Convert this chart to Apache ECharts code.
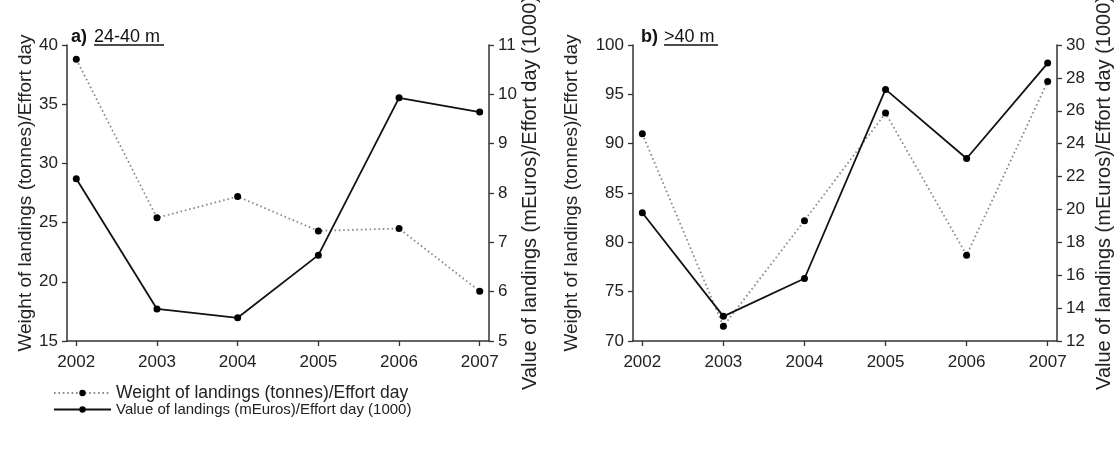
<!DOCTYPE html>
<html>
<head>
<meta charset="utf-8">
<script src="https://cdn.jsdelivr.net/npm/echarts@6/dist/echarts.min.js"></script>
<style>
html,body{margin:0;padding:0;background:#fff;}
#chart{width:1115px;height:451px;}
</style>
</head>
<body>
<div id="chart"></div>
<script>
// ---- data ----
const years = [2002, 2003, 2004, 2005, 2006, 2007];
const weightA = [38.8, 25.4, 27.2, 24.3, 24.5, 19.2];   // tonnes / effort day (left axis, panel a)
const valueA  = [8.29, 5.65, 5.47, 6.74, 9.93, 9.64];   // mEuros / effort day (1000) (right axis, panel a)
const weightB = [91.0, 71.5, 82.2, 93.1, 78.7, 96.3];   // panel b left axis
const valueB  = [19.8, 13.5, 15.8, 27.3, 23.1, 28.9];   // panel b right axis
const seriesNames = ['Weight of landings (tonnes)/Effort day', 'Value of landings (mEuros)/Effort day (1000)'];
const leftAxisName = 'Weight of landings (tonnes)/Effort day';
const rightAxisName = 'Value of landings (mEuros)/Effort day (1000)';
const panelTitles = [['a)', '24-40 m'], ['b)', '>40 m']];

const FONT = '"Liberation Sans", Arial, Helvetica, sans-serif';
const AX = '#333';
const TXT = '#222';
const pad = 0.115;

function pairs(vals) { return years.map((y, i) => [y, vals[i]]); }

function xAxis(g) {
  return {
    gridIndex: g, type: 'value', min: years[0] - pad, max: years[years.length - 1] + pad,
    axisLine: { show: true, onZero: false, lineStyle: { color: AX, width: 1.5 } },
    axisTick: { show: true, length: 5, customValues: years, lineStyle: { color: AX, width: 1.3 } },
    axisLabel: { customValues: years, formatter: v => String(Math.round(v)), fontSize: 17, color: TXT, fontFamily: FONT, margin: 13 },
    splitLine: { show: false }
  };
}
function yAxis(g, pos, min, max, interval, name, gap, nameSize) {
  return {
    gridIndex: g, type: 'value', position: pos, min: min, max: max, interval: interval,
    name: name, nameLocation: 'middle', nameGap: gap, nameRotate: 90,
    nameTextStyle: { fontSize: nameSize, color: TXT, fontFamily: FONT },
    axisLine: { show: true, onZero: false, lineStyle: { color: AX, width: 1.5 } },
    axisTick: { show: true, length: 5, lineStyle: { color: AX, width: 1.3 } },
    axisLabel: { fontSize: 17, color: TXT, fontFamily: FONT, margin: 9 },
    splitLine: { show: false }
  };
}
function dotted(name, x, y, vals) {
  return {
    name: name, type: 'line', xAxisIndex: x, yAxisIndex: y, data: pairs(vals),
    symbol: 'circle', symbolSize: 7, itemStyle: { color: '#000' },
    lineStyle: { color: '#8a8a8a', width: 1.8, type: [1.6, 2.8] }, z: 2
  };
}
function solid(name, x, y, vals) {
  return {
    name: name, type: 'line', xAxisIndex: x, yAxisIndex: y, data: pairs(vals),
    symbol: 'circle', symbolSize: 7, itemStyle: { color: '#000' },
    lineStyle: { color: '#111', width: 1.8 }, z: 3
  };
}

const chart = echarts.init(document.getElementById('chart'), null, { renderer: 'canvas' });
chart.setOption({
  animation: false,
  backgroundColor: '#fff',
  textStyle: { fontFamily: FONT },
  grid: [
    { left: 67, right: 1115 - 489, top: 45, height: 296, containLabel: false, outerBoundsMode: 'none' },
    { left: 633, right: 1115 - 1057, top: 45, height: 296, containLabel: false, outerBoundsMode: 'none' }
  ],
  xAxis: [xAxis(0), xAxis(1)],
  yAxis: [
    yAxis(0, 'left', 15, 40, 5, leftAxisName, 32, 19),
    yAxis(0, 'right', 5, 11, 1, rightAxisName, 31, 20),
    yAxis(1, 'left', 70, 100, 5, leftAxisName, 52, 19),
    yAxis(1, 'right', 12, 30, 2, rightAxisName, 37, 20)
  ],
  legend: {
    orient: 'vertical', left: 48, top: 379, itemWidth: 57, itemHeight: 8, itemGap: 0,
    textStyle: {
      color: TXT, fontFamily: FONT, lineHeight: 15,
      rich: {
        w: { fontSize: 17.5, color: TXT, fontFamily: FONT, lineHeight: 15 },
        v: { fontSize: 15, color: TXT, fontFamily: FONT, lineHeight: 15 }
      }
    },
    formatter: n => (n === seriesNames[0] ? '{w|' : '{v|') + n + '}',
    data: seriesNames
  },
  series: [
    dotted(seriesNames[0], 0, 0, weightA),
    solid(seriesNames[1], 0, 1, valueA),
    dotted(seriesNames[0], 1, 2, weightB),
    solid(seriesNames[1], 1, 3, valueB)
  ],
  graphic: [
    { type: 'text', left: 71, top: 28, style: { text: panelTitles[0][0], font: 'bold 18px ' + FONT, fill: '#111' } },
    { type: 'text', left: 94, top: 28, style: { text: panelTitles[0][1], font: '18px ' + FONT, fill: '#111' } },
    { type: 'line', shape: { x1: 94, y1: 45, x2: 164, y2: 45 }, style: { stroke: '#111', lineWidth: 1.3 } },
    { type: 'text', left: 641, top: 28, style: { text: panelTitles[1][0], font: 'bold 18px ' + FONT, fill: '#111' } },
    { type: 'text', left: 664, top: 28, style: { text: panelTitles[1][1], font: '18px ' + FONT, fill: '#111' } },
    { type: 'line', shape: { x1: 664, y1: 45, x2: 718, y2: 45 }, style: { stroke: '#111', lineWidth: 1.3 } }
  ]
});
</script>
</body>
</html>
